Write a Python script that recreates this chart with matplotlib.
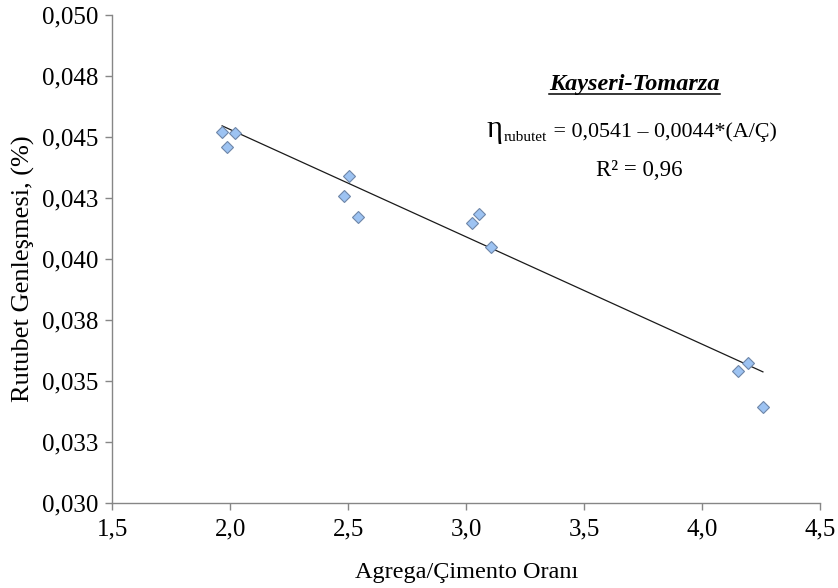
import matplotlib.pyplot as plt
from matplotlib.lines import Line2D
import numpy as np

plt.rcParams['font.family'] = ['Liberation Serif', 'DejaVu Serif']

# aggregate/cement ratio and moisture expansion (%)
ac_ratio = [1.965, 2.019, 1.986, 2.503, 2.481, 2.542, 3.054, 3.023, 3.104, 4.194, 4.152, 4.258]
expansion = [0.04521, 0.04515, 0.04460, 0.04340, 0.04258, 0.04170,
             0.04185, 0.04148, 0.04047, 0.03574, 0.03540, 0.03391]

# regression: eta = a - b * (A/C)
fit_a = 0.0541
fit_b = 0.0044
r2_text = '0,96'

xticks = [1.5, 2.0, 2.5, 3.0, 3.5, 4.0, 4.5]
xtick_labels = ['1,5', '2,0', '2,5', '3,0', '3,5', '4,0', '4,5']
yticks = [0.030, 0.0325, 0.035, 0.0375, 0.040, 0.0425, 0.045, 0.0475, 0.050]
ytick_labels = ['0,030', '0,033', '0,035', '0,038', '0,040', '0,043', '0,045', '0,048', '0,050']

fig = plt.figure(figsize=(8.38, 5.88), dpi=100)
ax = fig.add_axes([0.1342, 0.1451, 0.8443, 0.8294])

# trend line over the measured range
xl = np.array([min(ac_ratio), max(ac_ratio)])
ax.plot(xl, fit_a - fit_b * xl, color='#1a1a1a', lw=0.9, zorder=2)

ax.plot(ac_ratio, expansion, linestyle='none', marker='D', markersize=6.2,
        markerfacecolor='#9DC3F2', markeredgecolor='#6E86A8', markeredgewidth=0.8, zorder=3)

ax.set_xlim(1.5, 4.5)
ax.set_ylim(0.030, 0.050)
ax.set_xticks(xticks)
ax.set_xticklabels(xtick_labels)
ax.set_yticks(yticks)
ax.set_yticklabels(ytick_labels)

for s in ['top', 'right']:
    ax.spines[s].set_visible(False)
for s in ['left', 'bottom']:
    ax.spines[s].set_color('#868686')
    ax.spines[s].set_linewidth(1.0)
ax.tick_params(direction='out', length=5, width=1, color='#868686',
               labelsize=18, labelcolor='black')
ax.tick_params(axis='x', pad=6)
ax.tick_params(axis='y', pad=5)

ax.set_xlabel('Agrega/Çimento Oranı', fontsize=17.5, labelpad=16)
ylab = ax.set_ylabel('Rutubet Genleşmesi, (%)', fontsize=19)
ylab.set_va('center')
ax.yaxis.set_label_coords(-0.1265, 0.479)

title = ax.text(3.714, 0.04713, 'Kayseri-Tomarza', fontsize=17.5, fontweight='bold',
                fontstyle='italic', ha='center', va='center')
ax.text(3.735, 0.04364, 'R² = ' + r2_text, fontsize=16.5, ha='center', va='center')

# equation: large eta, small subscript, then the formula
eq_x, eq_y = 3.087, 0.0450
renderer = fig.canvas.get_renderer()
t_eta = ax.text(eq_x, eq_y, 'η', fontsize=22, ha='left', va='baseline')
inv = ax.transData.inverted()
base_px = ax.transData.transform((eq_x, eq_y))
x1 = t_eta.get_window_extent(renderer).x1
sub_x, sub_y = inv.transform((x1 + 1, base_px[1] - 4))
t_sub = ax.text(sub_x, sub_y, 'rubutet', fontsize=11, ha='left', va='baseline')
x2 = t_sub.get_window_extent(renderer).x1
rest_x, _ = inv.transform((x2 + 1, base_px[1]))
ax.text(rest_x, eq_y, ' = 0,0541 – 0,0044*(A/Ç)', fontsize=15.8, ha='left', va='baseline')

# underline the site name
fig.canvas.draw()
bb = title.get_window_extent().transformed(fig.transFigure.inverted())
fig.add_artist(Line2D([bb.x0, bb.x1], [bb.y0 + 0.002, bb.y0 + 0.002],
                      transform=fig.transFigure, color='black', lw=1.1))

fig.savefig('out.png', dpi=100)
